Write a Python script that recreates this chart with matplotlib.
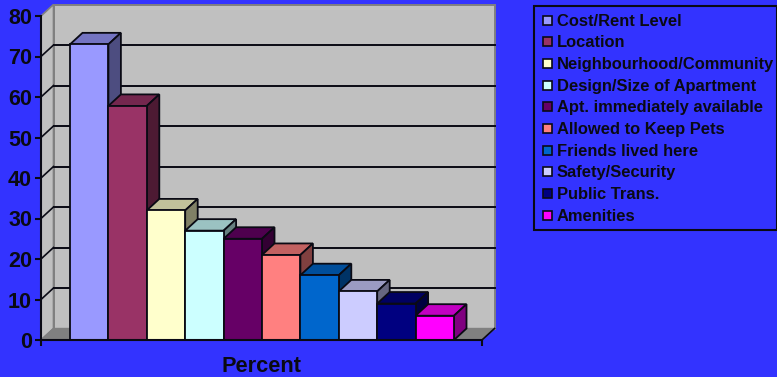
import matplotlib
matplotlib.use('Agg')
import matplotlib.pyplot as plt
from matplotlib.colors import to_rgb
from matplotlib.patches import Rectangle

# datos
categorias = ['Cost/Rent Level', 'Location', 'Neighbourhood/Community',
              'Design/Size of Apartment', 'Apt. immediately available',
              'Allowed to Keep Pets', 'Friends lived here', 'Safety/Security',
              'Public Trans.', 'Amenities']
valores = [73, 57.8, 32, 27, 25, 21, 16, 12, 9, 6]
colores = ['#9999FF', '#993366', '#FFFFCC', '#CCFFFF', '#660066',
           '#FF8080', '#0066CC', '#CCCCFF', '#000080', '#FF00FF']
ticks_y = [0, 10, 20, 30, 40, 50, 60, 70, 80]

FONDO = '#3333FF'
W, H = 777, 377
NEGRO = '#0a0a14'
plt.rcParams['font.family'] = ['Liberation Sans', 'DejaVu Sans']

fig = plt.figure(figsize=(W / 100, H / 100), dpi=100, facecolor=FONDO)
ax = fig.add_axes([41 / W, 1 - 340 / H, 441 / W, 324 / H], facecolor='none')
ax.set_xlim(-1.255, 10.229)
ax.set_ylim(0, 80)

# profundidad del efecto 3D
dx = 12.5 / 38.4
dy = 11.5 / 4.05
x0, x1 = ax.get_xlim()


def oscuro(color, f):
    return tuple(c * f for c in to_rgb(color))


# paredes y piso
ax.fill([x0 + dx, x1 + dx, x1 + dx, x0 + dx], [dy, dy, 80 + dy, 80 + dy],
        fc='#C0C0C0', ec='#808080', lw=1.4, zorder=1, clip_on=False)
ax.fill([x0, x0 + dx, x0 + dx, x0], [0, dy, 80 + dy, 80],
        fc='#C0C0C0', ec='#808080', lw=1.2, zorder=1, clip_on=False)
ax.fill([x0, x1, x1 + dx, x0 + dx], [0, 0, dy, dy],
        fc='#808080', ec='#808080', lw=1, zorder=1.5, clip_on=False)
ax.plot([x1, x1 + dx], [0, dy], color=NEGRO, lw=1.2, zorder=1.6, clip_on=False)

# grilla sobre la pared del fondo
for t in ticks_y[1:-1]:
    ax.plot([x0 + dx, x1 + dx], [t + dy, t + dy], color=NEGRO, lw=1.4, zorder=2, clip_on=False)
    ax.plot([x0, x0 + dx], [t, t + dy], color=NEGRO, lw=1.2, zorder=2, clip_on=False)

# barras
for i, (v, c) in enumerate(zip(valores, colores)):
    z = 3 + i
    ax.bar(i, v, width=1.0, color=c, edgecolor=NEGRO, linewidth=1.3, zorder=z + 0.1, clip_on=False)
    izq, der = i - 0.5, i + 0.5
    ax.fill([izq, der, der + dx, izq + dx], [v, v, v + dy, v + dy],
            fc=oscuro(c, 0.76), ec=NEGRO, lw=1.3, zorder=z, clip_on=False)
    ax.fill([der, der + dx, der + dx, der], [0, dy, v + dy, v],
            fc=oscuro(c, 0.5), ec=NEGRO, lw=1.3, zorder=z, clip_on=False)

# ejes
for lado in ['top', 'right']:
    ax.spines[lado].set_visible(False)
for lado in ['left', 'bottom']:
    ax.spines[lado].set_color(NEGRO)
    ax.spines[lado].set_linewidth(1.5)
    ax.spines[lado].set_zorder(20)
ax.set_yticks(ticks_y)
ax.set_yticklabels([str(t) for t in ticks_y], fontsize=15.5, fontweight='bold', color=NEGRO)
ax.set_xticks([x0, x1])
ax.set_xticklabels(['', ''])
ax.tick_params(axis='y', length=4, width=1.5, color=NEGRO, pad=2.5)
ax.tick_params(axis='x', length=4, width=1.5, color=NEGRO)
ax.set_xlabel('Percent', fontsize=15.7, fontweight='bold', color=NEGRO, labelpad=4)

# leyenda
fig.add_artist(Rectangle((534 / W, 1 - 230 / H), 243 / W, 224 / H, transform=fig.transFigure,
                         fc='none', ec=NEGRO, lw=1.5, clip_on=False))
for i, (nombre, c) in enumerate(zip(categorias, colores)):
    y = 20 + i * 21.67
    fig.add_artist(Rectangle((542.5 / W, 1 - (y + 4.5) / H), 9 / W, 9 / H, transform=fig.transFigure,
                             fc=c, ec=NEGRO, lw=1.2))
    fig.text(557 / W, 1 - (y + 1) / H, nombre, fontsize=11.85, fontweight='bold', color=NEGRO,
             va='center', ha='left')

fig.savefig('out.png', dpi=100, facecolor=FONDO)
